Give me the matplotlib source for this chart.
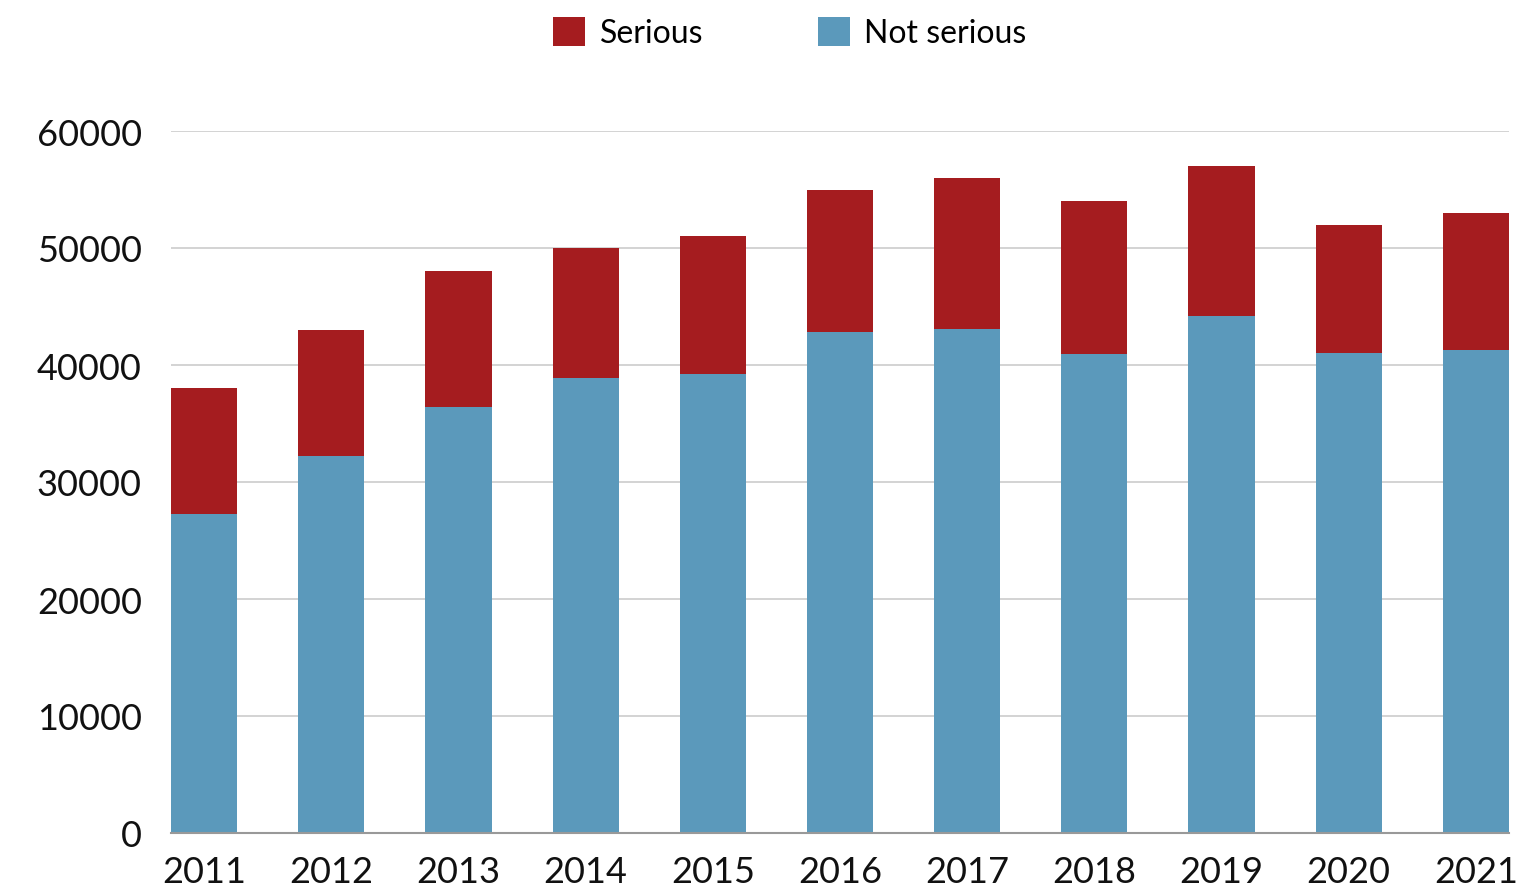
import matplotlib.pyplot as plt
import numpy as np

years = ["2011", "2012", "2013", "2014", "2015", "2016",
         "2017", "2018", "2019", "2020", "2021"]
totals = [38000, 43000, 48000, 50000, 51000, 55000,
          56000, 54000, 57000, 52000, 53000]
not_serious = [27300, 32200, 36400, 38900, 39200, 42800,
               43100, 40900, 44200, 41000, 41300]
serious = [t - n for t, n in zip(totals, not_serious)]

red = "#A51C1F"
blue = "#5B99BB"

plt.rcParams["font.family"] = ["Lato", "DejaVu Sans"]

fig = plt.figure(figsize=(15.18, 8.87), dpi=100)
ax = fig.add_axes([171 / 1518, 53 / 887, (1509 - 171) / 1518, (834 - 132) / 887])

x = np.arange(len(years))
width = 0.52
ax.bar(x, not_serious, width, color=blue, label="Not serious", zorder=2)
ax.bar(x, serious, width, bottom=not_serious, color=red, label="Serious", zorder=2)

ax.set_xlim(-width / 2, len(years) - 1 + width / 2)
ax.set_ylim(0, 60000)
ax.set_yticks(np.arange(0, 60001, 10000))
ax.set_xticks(x)
ax.set_xticklabels(years)
ax.tick_params(axis="both", length=0, labelsize=26, colors="#111111")
ax.tick_params(axis="y", pad=21)
ax.tick_params(axis="x", pad=16)

ax.grid(axis="y", color="#CCCCCC", linewidth=1.2, zorder=0)
for side in ["top", "right", "left"]:
    ax.spines[side].set_visible(False)
ax.spines["bottom"].set_color("#999999")
ax.spines["bottom"].set_linewidth(1.5)
ax.spines["bottom"].set_zorder(3)

handles, labels = ax.get_legend_handles_labels()
fig.legend(handles[::-1], labels[::-1], loc="upper center",
           bbox_to_anchor=(790 / 1518, 1.012), ncol=2, frameon=False,
           fontsize=23, handlelength=1.0, handleheight=1.0,
           handletextpad=0.45, columnspacing=3.6)

plt.savefig("out.png", dpi=100)
